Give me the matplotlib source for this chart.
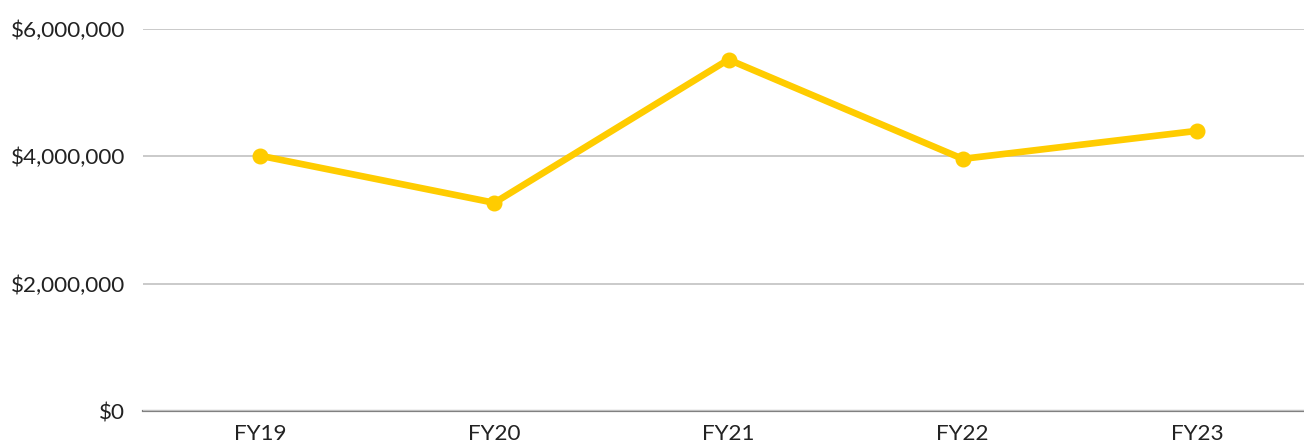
import matplotlib.pyplot as plt
from matplotlib.ticker import FuncFormatter

# data
years = ["FY19", "FY20", "FY21", "FY22", "FY23"]
values = [4010000, 3270000, 5520000, 3960000, 4400000]
y_ticks = [0, 2000000, 4000000, 6000000]

plt.rcParams['font.family'] = ['Lato', 'DejaVu Sans']

fig = plt.figure(figsize=(13.04, 4.43), dpi=100)
W, H = 1304, 443
# axes box in pixels: left 143, right 1314 (runs past the edge), y 29..411
ax = fig.add_axes([143 / W, (H - 411) / H, (1314 - 143) / W, 382 / H])

ax.plot(range(len(years)), values, color='#FFCC00', linewidth=4.8,
        marker='o', markersize=10.5, solid_capstyle='round', zorder=3)

ax.set_xlim(-0.5, len(years) - 0.5)
ax.set_ylim(0, 6000000)
ax.set_xticks(range(len(years)))
ax.set_xticklabels(years)
ax.set_yticks(y_ticks)
ax.yaxis.set_major_formatter(FuncFormatter(lambda v, p: f"${v:,.0f}"))

ax.grid(axis='y', color='#c6c6c6', linewidth=1.3, zorder=0)
for s in ['top', 'right', 'left']:
    ax.spines[s].set_visible(False)
ax.spines['bottom'].set_color('#808080')
ax.spines['bottom'].set_linewidth(1.6)
ax.spines['bottom'].set_zorder(1)

ax.tick_params(axis='both', length=0, labelsize=16.2, colors='#222222')
ax.tick_params(axis='y', pad=13)
ax.tick_params(axis='x', pad=9)

fig.savefig('out.png', dpi=100)
